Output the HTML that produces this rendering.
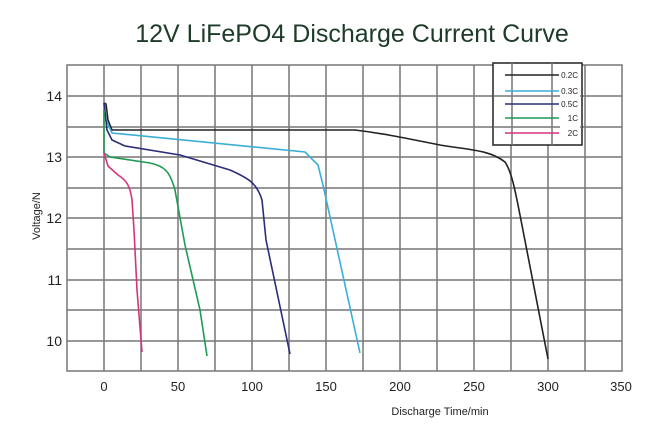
<!DOCTYPE html>
<html><head><style>
body{margin:0;background:#fff;}
svg text{font-family:"Liberation Sans",sans-serif;}
</style></head><body>
<svg width="650" height="430" viewBox="0 0 650 430" xmlns="http://www.w3.org/2000/svg">
<rect width="650" height="430" fill="#fff"/>
<text x="352" y="42" text-anchor="middle" font-size="25" fill="#1d3b28">12V LiFePO4 Discharge Current Curve</text>
<g stroke="#777" stroke-width="1.5" fill="none">
<rect x="67" y="65" width="555" height="306"/>
<path d="M104,65V371M141,65V371M178,65V371M215,65V371M252,65V371M289,65V371M326,65V371M363,65V371M400,65V371M437,65V371M474,65V371M511,65V371M548,65V371M585,65V371"/>
<path d="M67,96H622M67,127H622M67,157H622M67,188H622M67,218H622M67,249H622M67,280H622M67,310H622M67,341H622"/>
</g>
<g font-size="14" fill="#222" text-anchor="end">
<text x="62" y="101">14</text><text x="62" y="162">13</text><text x="62" y="223">12</text><text x="62" y="285">11</text><text x="62" y="346">10</text>
</g>
<g font-size="13" fill="#222" text-anchor="middle">
<text x="104" y="391">0</text><text x="178" y="391">50</text><text x="252" y="391">100</text><text x="326" y="391">150</text><text x="400" y="391">200</text><text x="474" y="391">250</text><text x="548" y="391">300</text><text x="621" y="391">350</text>
</g>
<text x="440" y="415" font-size="11" fill="#222" text-anchor="middle">Discharge Time/min</text>
<text transform="translate(40,216) rotate(-90)" font-size="11" fill="#222" text-anchor="middle">Voltage/N</text>
<g fill="none" stroke-width="1.6">
<path stroke="#222" d="M104,103 L106,104 L108,120 L112,130 L355,130 C380,133 400,137 440,145 C470,150 490,150 505,162 C512,172 516,195 520,215 L548,359"/>
<path stroke="#3aaed6" d="M104,103 L106,120 L112,133 L305,152 L318,165 L323,185 L360,353"/>
<path stroke="#2b2d7a" d="M104,103 L107,130 L112,140 L125,146 L180,155 L230,170 C248,178 257,183 262,200 L266,240 L290,354"/>
<path stroke="#1f9a52" d="M104,110 L104,153 L110,157 L150,163 C165,166 170,172 175,190 L185,245 L200,310 L207,356"/>
<path stroke="#d6337a" d="M104,153 L108,166 L118,175 C126,180 130,185 132,200 L134,230 L137,290 L142,352"/>
</g>
<rect x="493" y="63" width="89" height="82" fill="#fff" stroke="#222" stroke-width="1.5"/>
<path d="M512,63V145M552,63V145M493,96H582M493,127H582" stroke="#777" stroke-width="1.5"/>
<g stroke-width="1.6">
<line x1="505" y1="75" x2="559" y2="75" stroke="#222"/>
<line x1="505" y1="91" x2="559" y2="91" stroke="#3aaed6"/>
<line x1="505" y1="104" x2="559" y2="104" stroke="#2b2d7a"/>
<line x1="505" y1="118" x2="559" y2="118" stroke="#1f9a52"/>
<line x1="505" y1="133" x2="559" y2="133" stroke="#d6337a"/>
</g>
<g font-size="8" fill="#222" text-anchor="end">
<rect x="560" y="70" width="20" height="70" fill="#fff"/>
<text x="578" y="78">0.2C</text><text x="578" y="94">0.3C</text><text x="578" y="107">0.5C</text><text x="578" y="121">1C</text><text x="578" y="136">2C</text>
</g>
</svg>
</body></html>
